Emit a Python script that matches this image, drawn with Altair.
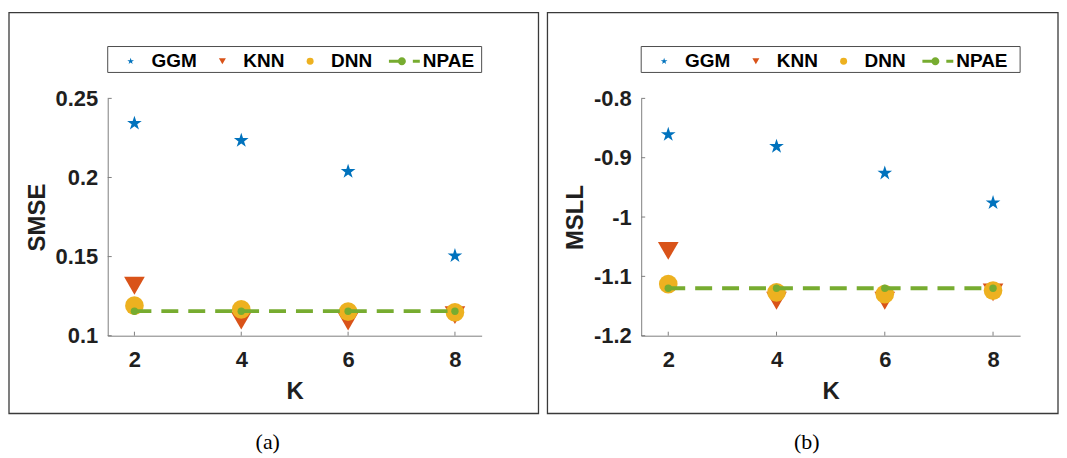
import altair as alt
import pandas as pd

# ---- data ----
K = [2, 4, 6, 8]
series_names = ["GGM", "KNN", "DNN", "NPAE"]

smse_ggm = [0.2342, 0.2234, 0.2038, 0.1505]
smse_knn = [0.1316, 0.1095, 0.1090, 0.1130]
smse_dnn = [0.1190, 0.1166, 0.1152, 0.1148]
smse_npae = [0.1155, 0.1155, 0.1155, 0.1155]

msll_ggm = [-0.861, -0.881, -0.926, -0.976]
msll_knn = [-1.057, -1.141, -1.141, -1.127]
msll_dnn = [-1.113, -1.127, -1.130, -1.124]
msll_npae = [-1.120, -1.120, -1.120, -1.120]

k_ticks = [2, 4, 6, 8]
smse_ticks = [0.1, 0.15, 0.2, 0.25]
msll_ticks = [-1.2, -1.1, -1.0, -0.9, -0.8]

# ---- styles ----
COLORS = ["#0072BD", "#D95319", "#EDB120", "#77AC30"]
STAR = ("M0,-1L0.2245,-0.309L0.951,-0.309L0.363,0.118L0.588,0.809L0,0.382"
        "L-0.588,0.809L-0.363,0.118L-0.951,-0.309L-0.2245,-0.309Z")
NPAE_SYM = ("M-3.71,-0.43H0V0.43H-3.71Z M3.14,-0.43H5.14V0.43H3.14Z "
            "M-1.15,0A1.15,1.15 0 1,1 1.15,0A1.15,1.15 0 1,1 -1.15,0Z")
SHAPES = [STAR, "triangle-down", "circle", NPAE_SYM]
SIZES = {"GGM": 240, "KNN": 430, "DNN": 350}
FONT = "Liberation Sans"
TXT = "#1f1f1f"


def make_df(ggm, knn, dnn, npae):
    rows = []
    for name, vals in zip(series_names, [ggm, knn, dnn, npae]):
        for k, v in zip(K, vals):
            rows.append({"K": k, "value": v, "series": name})
    return pd.DataFrame(rows)


def panel(df, ticks, domain, ytitle, caption, W, H, frame_l, frame_r, cap_dx):
    xscale = alt.Scale(domain=[1.5, 8.5], nice=False, zero=False)
    yscale = alt.Scale(domain=domain, nice=False, zero=False)
    common = dict(grid=False, ticks=False, tickSize=0, domainColor="#808080",
                  domainWidth=1, labelFont=FONT, labelFontSize=22,
                  labelFontWeight="bold", labelColor=TXT, labelFlush=False,
                  labelOverlap=False, titleFont=FONT, titleFontSize=24,
                  titleFontWeight="bold", titleColor=TXT)
    xaxis = alt.Axis(values=k_ticks, title="K", labelPadding=14, titlePadding=9,
                     format="d", **common)
    yaxis = alt.Axis(values=ticks, title=ytitle, labelPadding=10, titlePadding=6,
                     labelExpr="replace(format(datum.value, '.2~f'), '\u2212', '-')",
                     **common)
    legend = alt.Legend(orient="none", legendX=13.5, legendY=-47, direction="horizontal",
                        title=None, symbolSize=49, symbolStrokeWidth=0, symbolOpacity=1,
                        labelFont=FONT, labelFontSize=19, labelFontWeight="bold",
                        labelColor="#000000", labelOffset=11.5, columnPadding=16,
                        padding=0)
    cscale = alt.Scale(domain=series_names, range=COLORS)
    sscale = alt.Scale(domain=series_names, range=SHAPES)

    one = pd.DataFrame({"a": [1]})
    frame = alt.Chart(one).mark_rect(fill="white", fillOpacity=0, stroke="#3a3a3a",
                                     strokeWidth=1.3).encode(
        x=alt.value(frame_l), x2=alt.value(W + frame_r),
        y=alt.value(-86), y2=alt.value(H + 78))
    legbox = alt.Chart(one).mark_rect(fill="white", fillOpacity=0, stroke="#4d4d4d",
                                      strokeWidth=1).encode(
        x=alt.value(0), x2=alt.value(W), y=alt.value(-52), y2=alt.value(-26))

    xt = alt.Chart(pd.DataFrame({"K": k_ticks})).mark_rule(color="#808080").encode(
        x=alt.X("K:Q", scale=xscale, axis=xaxis), y=alt.value(H), y2=alt.value(H - 4))
    yt = alt.Chart(pd.DataFrame({"value": ticks})).mark_rule(color="#808080").encode(
        y=alt.Y("value:Q", scale=yscale, axis=yaxis), x=alt.value(0), x2=alt.value(4))

    base = alt.Chart(df)
    layers = [frame, legbox, xt, yt]
    for name in ["GGM", "KNN", "DNN"]:
        layers.append(
            base.transform_filter(alt.datum.series == name)
            .mark_point(filled=True, opacity=1, size=SIZES[name], strokeWidth=0)
            .encode(
                x=alt.X("K:Q", scale=xscale, axis=xaxis),
                y=alt.Y("value:Q", scale=yscale, axis=yaxis),
                color=alt.Color("series:N", scale=cscale, legend=legend),
                shape=alt.Shape("series:N", scale=sscale, legend=legend),
            )
        )
    npae = base.transform_filter(alt.datum.series == "NPAE")
    layers.append(npae.mark_line(color=COLORS[3], strokeWidth=3.8, strokeDash=[17, 10])
                  .encode(x=alt.X("K:Q", scale=xscale, axis=xaxis),
                          y=alt.Y("value:Q", scale=yscale, axis=yaxis)))
    layers.append(npae.mark_point(filled=True, opacity=1, shape="circle", size=55,
                                  color=COLORS[3], strokeWidth=0)
                  .encode(x=alt.X("K:Q", scale=xscale, axis=xaxis),
                          y=alt.Y("value:Q", scale=yscale, axis=yaxis)))

    return alt.layer(*layers).properties(
        width=W, height=H,
        title=alt.TitleParams(caption, orient="bottom", offset=18, font="Liberation Serif",
                              fontSize=22, fontWeight="normal", color="#000000",
                              anchor="middle", dx=cap_dx),
    )


df_a = make_df(smse_ggm, smse_knn, smse_dnn, smse_npae)
df_b = make_df(msll_ggm, msll_knn, msll_dnn, msll_npae)

pa = panel(df_a, smse_ticks, [0.1, 0.25], "SMSE", "(a)", 375, 238, -99, 57, -27)
pb = panel(df_b, msll_ticks, [-1.2, -0.8], "MSLL", "(b)", 380, 238, -94, 38, -24)

chart = alt.hconcat(pa, pb, spacing=7).resolve_scale(
    color="independent", shape="independent", x="independent", y="independent"
).resolve_legend(color="independent", shape="independent").properties(
    padding={"left": 0, "top": 3, "right": 0, "bottom": 0},
    background="white",
).configure_view(strokeWidth=0, stroke="transparent")

chart.save("out.html", embed_options={"renderer": "svg", "actions": False})
